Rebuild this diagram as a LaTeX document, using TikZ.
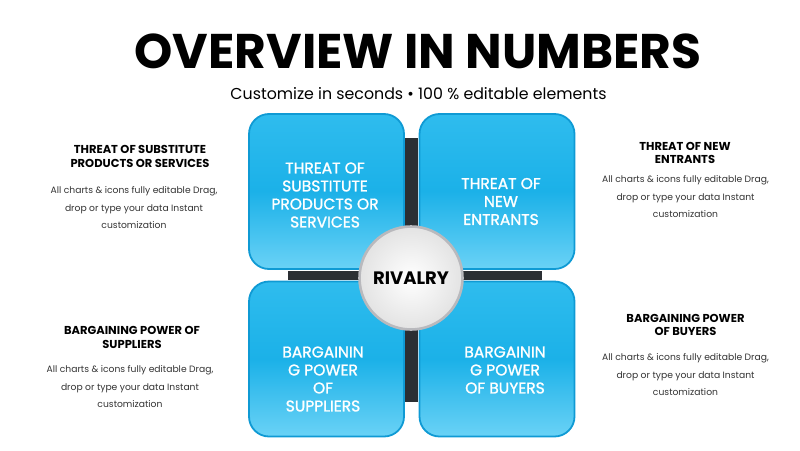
\documentclass[tikz,border=0pt]{standalone}
\usepackage{fontspec}
\setmainfont{Poppins}
\newfontfamily\medfont[FakeBold=1.3]{Poppins}
\usepackage{xcolor}
\usetikzlibrary{positioning}

\definecolor{quadblue}{HTML}{1BB1E8}
\definecolor{quadtop}{HTML}{2FBCEE}
\definecolor{quadbottom}{HTML}{6AD2F6}
\definecolor{quadrim}{HTML}{0F9AD4}
\definecolor{crossbar}{HTML}{2B2F33}
\definecolor{rimgray}{HTML}{B9B9BD}
\definecolor{bodygray}{HTML}{333333}

\begin{document}
\begin{tikzpicture}[x=1pt,y=-1pt,
	quad/.style={rounded corners=20pt, draw=quadrim, line width=1.8pt,
		top color=quadtop, bottom color=quadbottom, middle color=quadblue,
		minimum width=155pt, minimum height=155pt, inner sep=0pt},
	quadtext/.style={text=white, align=center, font=\medfont\fontsize{15.5}{18}\selectfont},
	sidehead/.style={align=center, font=\bfseries\fontsize{11.5}{13.5}\selectfont},
	sidebody/.style={align=center, text=bodygray, font=\fontsize{9.2}{17.5}\selectfont}]
	%\draw[help lines] (0,0) grid (800,450);
	\useasboundingbox (0,0) rectangle (800,450);
	
	\node[font=\bfseries\fontsize{48.7}{56}\selectfont] (title) at (418,51) {OVERVIEW IN NUMBERS};
	\node[anchor=base, font=\fontsize{15.8}{19}\selectfont] (subtitle) at (418.5,99) {Customize in seconds \textbullet\ 100 \% editable elements};
	
	% cross behind the four blocks
	\fill[crossbar] (405,138) rectangle (418,402);
	\fill[crossbar] (288,271) rectangle (542,280);
	
	\node[quad] (tl) at (326.5,191.5) {};
	\node[quad] (tr) at (497,191.5) {};
	\node[quad] (bl) at (326.5,359) {};
	\node[quad] (br) at (497,359) {};
	
	\node[quadtext] (tltext) at (325,195) {THREAT OF\\SUBSTITUTE\\PRODUCTS OR\\SERVICES};
	\node[quadtext] (trtext) at (501,201.5) {THREAT OF\\NEW\\ENTRANTS};
	\node[quadtext] (bltext) at (323,379) {BARGAININ\\G POWER\\OF\\SUPPLIERS};
	\node[quadtext] (brtext) at (505,370) {BARGAININ\\G POWER\\OF BUYERS};
	
	\node[circle, minimum size=103pt, draw=rimgray, line width=2.6pt,
		inner color=white, outer color=gray!22,
		font=\bfseries\fontsize{18}{20}\selectfont] (rivalry) at (411,278) {RIVALRY};
	
	\node[sidehead] (tlhead) at (140,156.5) {THREAT OF SUBSTITUTE\\PRODUCTS OR SERVICES};
	\node[sidebody] (tlbody) at (134,208) {All charts \& icons fully editable Drag,\\drop or type your data Instant\\customization};
	
	\node[sidehead] (trhead) at (685,153) {THREAT OF NEW\\ENTRANTS};
	\node[sidebody] (trbody) at (685.5,197) {All charts \& icons fully editable Drag,\\drop or type your data Instant\\customization};
	
	\node[sidehead] (blhead) at (132,337.5) {BARGAINING POWER OF\\SUPPLIERS};
	\node[sidebody] (blbody) at (130,387) {All charts \& icons fully editable Drag,\\drop or type your data Instant\\customization};
	
	\node[sidehead] (brhead) at (685.5,325) {BARGAINING POWER\\OF BUYERS};
	\node[sidebody] (brbody) at (685.5,375) {All charts \& icons fully editable Drag,\\drop or type your data Instant\\customization};
	
\end{tikzpicture}
\end{document}
